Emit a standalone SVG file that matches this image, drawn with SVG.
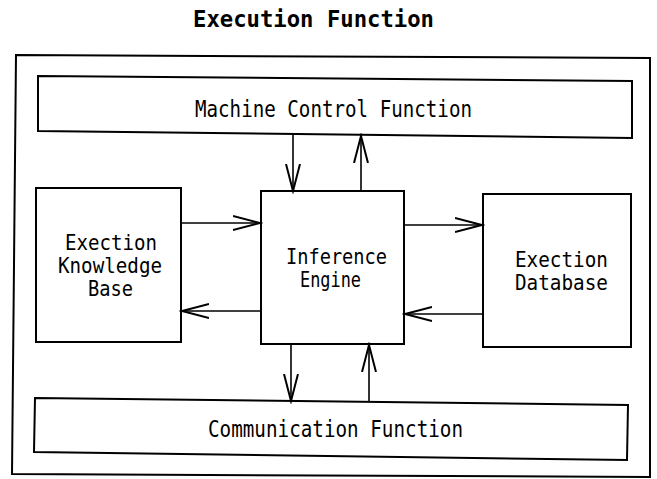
<svg xmlns="http://www.w3.org/2000/svg" width="657" height="479" viewBox="0 0 657 479">
<style>
.box{fill:none;stroke:#000;stroke-width:2}
.con{fill:none;stroke:#000;stroke-width:1.6}
text{font-family:"DejaVu Sans Mono","Liberation Mono",monospace;font-size:23px;fill:#000}
.ml{font-size:21px}
.title{font-weight:bold;font-size:23px}
</style>
<defs>
<marker id="ah" markerUnits="userSpaceOnUse" markerWidth="30" markerHeight="18" refX="27" refY="8" orient="auto" viewBox="0 0 30 16">
<path d="M0,1 L27,8 L0,15" fill="none" stroke="#000" stroke-width="2"/>
</marker>
</defs>
<rect width="657" height="479" fill="#fff"/>
<text class="title" x="193" y="27" textLength="241" lengthAdjust="spacingAndGlyphs">Execution Function</text>
<g id="outer"><path class="box" d="M16,55 L650,58 L650,477 L12,474 Z"/></g>
<g id="machine">
<path class="box" d="M38,76 L632,81 L632,138 L38,131 Z"/>
<text x="195" y="117" textLength="277" lengthAdjust="spacingAndGlyphs">Machine Control Function</text>
</g>
<g id="knowledge">
<rect class="box" x="36" y="188" width="145" height="154"/>
<text class="ml" x="65" y="250" textLength="92" lengthAdjust="spacingAndGlyphs">Exection</text>
<text class="ml" x="58" y="273" textLength="104" lengthAdjust="spacingAndGlyphs">Knowledge</text>
<text class="ml" x="88" y="296" textLength="45" lengthAdjust="spacingAndGlyphs">Base</text>
</g>
<g id="inference">
<rect class="box" x="261" y="191" width="143" height="153"/>
<text class="ml" x="286" y="264" textLength="101" lengthAdjust="spacingAndGlyphs">Inference</text>
<text class="ml" x="300" y="287" textLength="61" lengthAdjust="spacingAndGlyphs">Engine</text>
</g>
<g id="database">
<rect class="box" x="483" y="194" width="148" height="153"/>
<text class="ml" x="515" y="267" textLength="93" lengthAdjust="spacingAndGlyphs">Exection</text>
<text class="ml" x="515" y="290" textLength="93" lengthAdjust="spacingAndGlyphs">Database</text>
</g>
<g id="communication">
<path class="box" d="M35,398 L628,405 L627,460 L34,452 Z"/>
<text x="208" y="437" textLength="255" lengthAdjust="spacingAndGlyphs">Communication Function</text>
</g>
<g id="connectors">
<line class="con" x1="293" y1="134" x2="293" y2="191" marker-end="url(#ah)"/>
<line class="con" x1="361" y1="191" x2="361" y2="136" marker-end="url(#ah)"/>
<line class="con" x1="181" y1="223" x2="260" y2="223" marker-end="url(#ah)"/>
<line class="con" x1="261" y1="311" x2="182" y2="311" marker-end="url(#ah)"/>
<line class="con" x1="404" y1="225" x2="482" y2="225" marker-end="url(#ah)"/>
<line class="con" x1="483" y1="314" x2="405" y2="314" marker-end="url(#ah)"/>
<line class="con" x1="291" y1="344" x2="291" y2="401" marker-end="url(#ah)"/>
<line class="con" x1="369" y1="402" x2="369" y2="345" marker-end="url(#ah)"/>
</g>
</svg>
